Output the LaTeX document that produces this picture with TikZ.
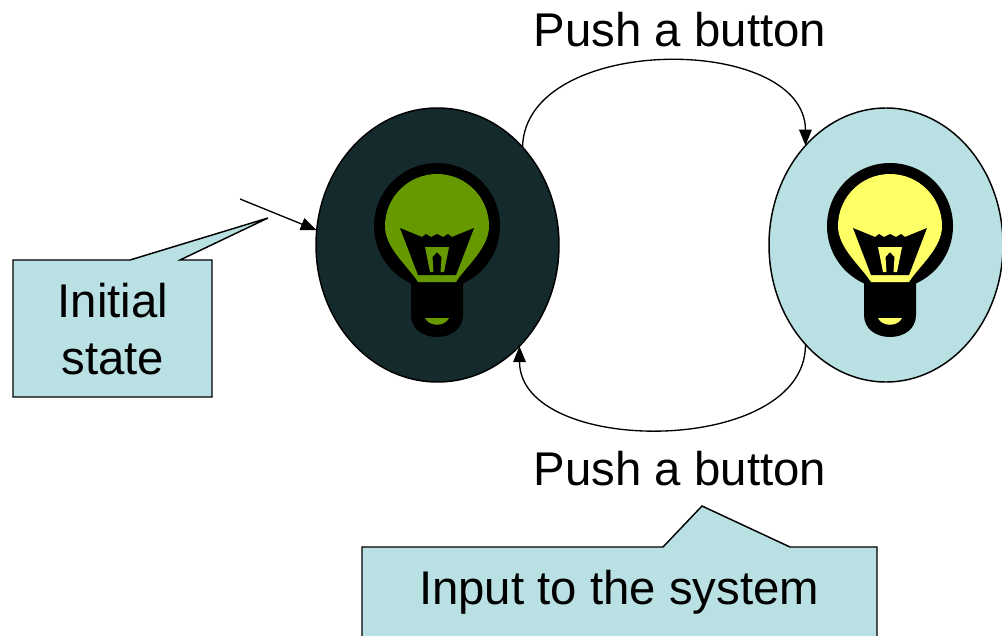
\documentclass[tikz,border=0pt]{standalone}
\usepackage{fontspec}
\setmainfont{Liberation Sans}
\usetikzlibrary{arrows.meta,shapes.geometric}
\definecolor{darkst}{HTML}{152A2D}
\definecolor{lightst}{HTML}{B9E0E3}
\definecolor{bulbgreen}{HTML}{669900}
\definecolor{bulbyellow}{HTML}{FFFF66}
\newcommand{\drawbulb}[3]{%
  \begin{scope}[shift={(#1,#2)}]
    \fill[black] (0,-19) circle[radius=63];
    \fill[black] (-26,25) -- (-26,70) .. controls (-26,84) and (-14,92) .. (0,92)
      .. controls (14,92) and (26,84) .. (26,70) -- (26,25) -- cycle;
    \fill[#3] (-19,37) .. controls (-30,20) and (-52,3) .. (-52,-19)
      .. controls (-52,-47.7) and (-28.7,-71) .. (0,-71)
      .. controls (28.7,-71) and (52,-47.7) .. (52,-19)
      .. controls (52,3) and (30,20) .. (19,37) -- cycle;
    \fill[black] (-37,-17) -- (-15,-8) -- (-11,-11) -- (-6,-8) -- (0,-11) -- (6,-8)
      -- (11,-11) -- (15,-8) -- (37,-17) -- (19,30) -- (-19,30) -- cycle;
    \fill[#3] (-12,2) -- (12,2) -- (7,27) -- (3.5,27) -- (4.5,12) -- (0,7) -- (-4.5,12)
      -- (-3.5,27) -- (-7,27) -- cycle;
    \fill[#3] (-12,73) .. controls (-8,82) and (8,82) .. (12,73) -- cycle;
  \end{scope}}
\begin{document}
\begin{tikzpicture}[x=0.75pt,y=-0.75pt,
  statenode/.style={ellipse, draw=black, line width=1.1pt, inner sep=0pt, outer sep=0pt},
  conn/.style={draw=black, line width=1pt, -{Triangle[length=12pt,width=9.5pt]}},
  callout/.style={draw=black, line width=1.1pt, fill=lightst},
  lbl/.style={font=\fontsize{35.5}{42.75}\selectfont, inner sep=0pt, align=center}]
\useasboundingbox (0,0) rectangle (1002,635);
\fill[white] (0,0) rectangle (1002,635);

\node[statenode, fill=darkst, minimum width=182.25pt, minimum height=205.5pt] (off) at (437.5,245) {};
\node[statenode, fill=lightst, minimum width=175.5pt, minimum height=205.5pt] (on) at (886,245) {};

\drawbulb{437}{245}{bulbgreen}
\drawbulb{890}{245}{bulbyellow}

\draw[conn] (off.49) .. controls (525,33) and (805,33) .. (on.129);
\draw[conn] (on.231) .. controls (806,457) and (520,457) .. (off.309);

\coordinate (istart) at (240,199);
\draw[conn] (istart) -- (off.173);

\node[lbl, anchor=base] (ttop) at (680,47) {Push a button};
\node[lbl, anchor=base] (tbot) at (680,485) {Push a button};

\draw[callout] (13,260) -- (130,260) -- (268,218) -- (180,260) -- (212,260)
  -- (212,397) -- (13,397) -- cycle;
\node[lbl] (initlbl) at (113,329.5) {Initial\\state};

\draw[callout] (362,547) -- (663,547) -- (702,506) -- (790,547) -- (877,547)
  -- (877,660) -- (362,660) -- cycle;
\node[lbl, anchor=base] (inputlbl) at (619,604) {Input to the system};
\end{tikzpicture}
\end{document}
